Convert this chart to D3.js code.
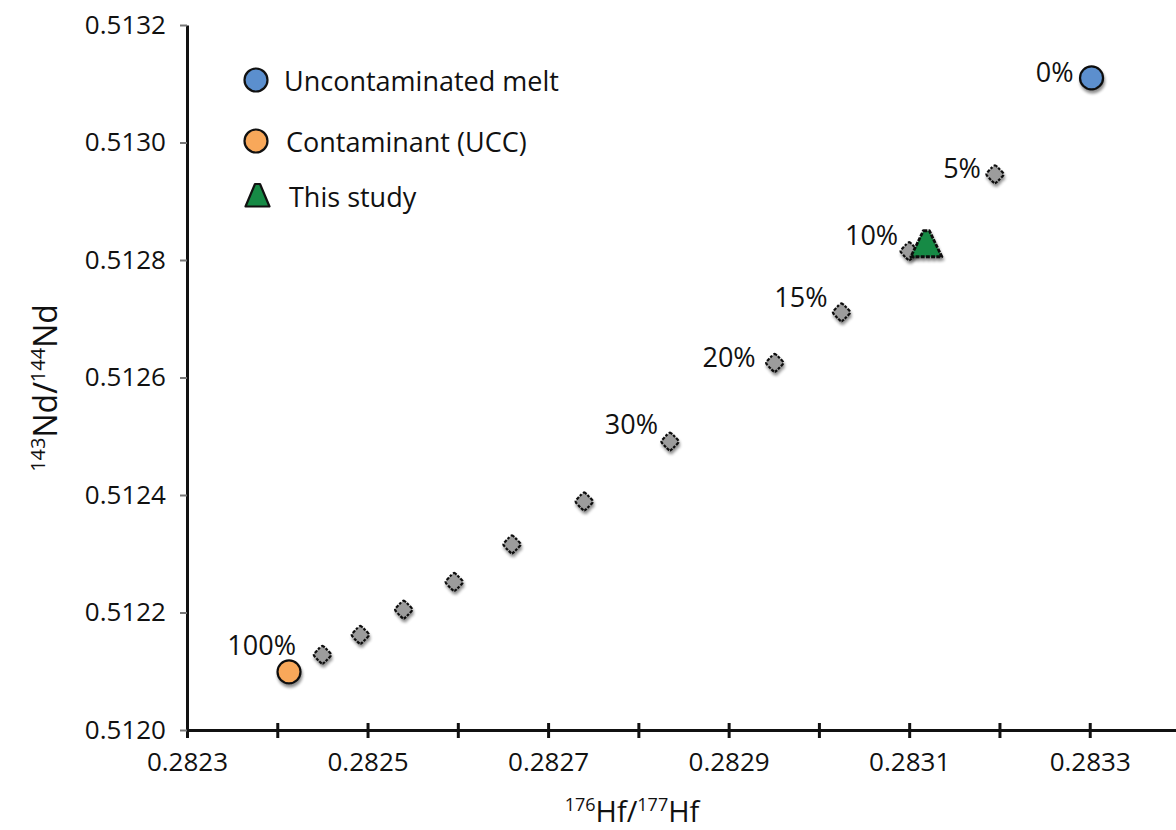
<!DOCTYPE html>
<html>
<head>
<meta charset="utf-8">
<script src="https://cdn.jsdelivr.net/npm/d3@7/dist/d3.min.js"></script>
<style>
  html, body { margin: 0; padding: 0; background: #fff; }
  svg { display: block; font-family: "Open Sans", "Noto Sans", sans-serif; }
</style>
</head>
<body>
<svg id="chart" width="1176" height="830"></svg>
<script>
// Binary mixing between an uncontaminated melt and upper continental crust (UCC)
const mixPercent = [5, 10, 15, 20, 30, 40, 50, 60, 70, 80, 90];
const mixHf = [0.283195, 0.283100, 0.283025, 0.282951, 0.282835, 0.282740, 0.282660, 0.282596, 0.282540, 0.282492, 0.282450];
const mixNd = [0.512946, 0.512815, 0.512711, 0.512625, 0.512491, 0.512389, 0.512316, 0.512252, 0.512205, 0.512162, 0.512128];

const meltHf = 0.283302, meltNd = 0.513110;          // 0 %
const contaminantHf = 0.282413, contaminantNd = 0.512099; // 100 %

const studyHf = [0.283119];
const studyNd = [0.512826];

const xTicks = [0.2823, 0.2824, 0.2825, 0.2826, 0.2827, 0.2828, 0.2829, 0.2830, 0.2831, 0.2832, 0.2833];
const xTickLabels = ["0.2823", "", "0.2825", "", "0.2827", "", "0.2829", "", "0.2831", "", "0.2833"];
const yTicks = [0.5120, 0.5122, 0.5124, 0.5126, 0.5128, 0.5130, 0.5132];

const legendLabels = ["Uncontaminated melt", "Contaminant (UCC)", "This study"];
const pctLabels = ["0%", "5%", "10%", "15%", "20%", "30%", "100%"];

const FONT = '"Open Sans", "Noto Sans", sans-serif';
const svg = d3.select("#chart");

const x = d3.scaleLinear().domain([0.2823, 0.2834]).range([187, 1180]);
const y = d3.scaleLinear().domain([0.5120, 0.5132]).range([730, 25]);

// soft drop shadow used by every marker
const defs = svg.append("defs");
const f = defs.append("filter").attr("id", "shadow")
  .attr("x", "-50%").attr("y", "-50%").attr("width", "200%").attr("height", "200%");
f.append("feGaussianBlur").attr("in", "SourceAlpha").attr("stdDeviation", 1.8).attr("result", "b");
f.append("feOffset").attr("in", "b").attr("dx", 1).attr("dy", 3).attr("result", "o");
f.append("feComponentTransfer").attr("in", "o").attr("result", "s")
  .append("feFuncA").attr("type", "linear").attr("slope", 0.45);
const m = f.append("feMerge");
m.append("feMergeNode").attr("in", "s");
m.append("feMergeNode").attr("in", "SourceGraphic");

// axes
const xAxis = d3.axisBottom(x).tickValues(xTicks)
  .tickFormat((d, i) => xTickLabels[i]).tickSize(7).tickSizeOuter(0);
const gx = svg.append("g").attr("transform", `translate(0,${y(0.5120)})`).call(xAxis)
  .attr("font-family", FONT).attr("font-size", 26);
gx.select(".domain").attr("stroke", "#111").attr("stroke-width", 3);
gx.selectAll(".tick line").attr("y1", -7).attr("y2", 8).attr("stroke", "#111").attr("stroke-width", 3);
gx.selectAll(".tick text").attr("y", 23).attr("dy", "0.71em").attr("fill", "#111");

const yAxis = d3.axisLeft(y).tickValues(yTicks).tickFormat(d3.format(".4f"))
  .tickSize(7).tickSizeOuter(0);
const gy = svg.append("g").attr("transform", `translate(${x(0.2823)},0)`).call(yAxis)
  .attr("font-family", FONT).attr("font-size", 26);
gy.select(".domain").attr("stroke", "#111").attr("stroke-width", 3);
gy.selectAll(".tick line").attr("stroke", "#777").attr("stroke-width", 2);
gy.selectAll(".tick text").attr("x", -21).attr("fill", "#111");

// axis titles
const xt = svg.append("text").attr("x", 632).attr("y", 822)
  .attr("text-anchor", "middle").attr("font-size", 29).attr("fill", "#111");
xt.append("tspan").attr("font-size", 18).attr("dy", -11).text("176");
xt.append("tspan").attr("dy", 11).text("Hf/");
xt.append("tspan").attr("font-size", 18).attr("dy", -11).text("177");
xt.append("tspan").attr("dy", 11).text("Hf");

const yt = svg.append("text").attr("transform", "translate(57,388) rotate(-90)")
  .attr("text-anchor", "middle").attr("font-size", 32).attr("fill", "#111");
yt.append("tspan").attr("font-size", 20).attr("dy", -12).text("143");
yt.append("tspan").attr("dy", 12).text("Nd/");
yt.append("tspan").attr("font-size", 20).attr("dy", -12).text("144");
yt.append("tspan").attr("dy", 12).text("Nd");

// mixing curve points
const diamond = "M0,-9 Q1.2,-9 8.2,-1.2 Q9,0 8.2,1.2 Q1.2,9 0,9 Q-1.2,9 -8.2,1.2 Q-9,0 -8.2,-1.2 Q-1.2,-9 0,-9Z";
svg.append("g").selectAll("path").data(mixHf).join("path")
  .attr("d", diamond)
  .attr("transform", (d, i) => `translate(${x(d)},${y(mixNd[i])})`)
  .attr("fill", "#9c9c9c").attr("stroke", "#111").attr("stroke-width", 2.2)
  .attr("stroke-dasharray", "3 1.4").attr("filter", "url(#shadow)");

// end members
svg.append("circle").attr("cx", x(meltHf)).attr("cy", y(meltNd)).attr("r", 11.5)
  .attr("fill", "#5b8fce").attr("stroke", "#111").attr("stroke-width", 2.2).attr("filter", "url(#shadow)");
svg.append("circle").attr("cx", x(contaminantHf)).attr("cy", y(contaminantNd)).attr("r", 11.5)
  .attr("fill", "#f8a85a").attr("stroke", "#111").attr("stroke-width", 2.2).attr("filter", "url(#shadow)");

// samples from this study
const tri = "M-3,-14 L3,-14 L15.5,12 L-15.5,12 Z";
svg.append("g").selectAll("path").data(studyHf).join("path")
  .attr("d", tri)
  .attr("transform", (d, i) => `translate(${x(d)},${y(studyNd[i])})`)
  .attr("fill", "#168a45").attr("stroke", "#111").attr("stroke-width", 2.8)
  .attr("stroke-dasharray", "4 1.2")
  .attr("stroke-linejoin", "round").attr("filter", "url(#shadow)");

// mixing percentage labels, placed beside their points
const pctHf = [meltHf, mixHf[0], mixHf[1], mixHf[2], mixHf[3], mixHf[4], contaminantHf];
const pctNd = [meltNd, mixNd[0], mixNd[1], mixNd[2], mixNd[3], mixNd[4], contaminantNd];
const pctOffset = [[-18, 4], [-14, 4], [-11, -6], [-14, -5], [-19, 4], [-12, -8], [7, -17]];
svg.append("g").selectAll("text").data(pctLabels).join("text")
  .attr("x", (d, i) => x(pctHf[i]) + pctOffset[i][0])
  .attr("y", (d, i) => y(pctNd[i]) + pctOffset[i][1])
  .attr("text-anchor", "end").attr("font-size", 27).attr("fill", "#111")
  .text(d => d);

// legend
const lg = svg.append("g");
lg.append("circle").attr("cx", 256).attr("cy", 80).attr("r", 11.5)
  .attr("fill", "#5b8fce").attr("stroke", "#111").attr("stroke-width", 2.2);
lg.append("circle").attr("cx", 256).attr("cy", 141).attr("r", 11.5)
  .attr("fill", "#f8a85a").attr("stroke", "#111").attr("stroke-width", 2.2);
lg.append("path").attr("d", "M-2.5,-11.5 L2.5,-11.5 L12,11 L-12,11 Z")
  .attr("transform", "translate(257.5,195.5)")
  .attr("fill", "#168a45").attr("stroke", "#111").attr("stroke-width", 2.2).attr("stroke-linejoin", "round");
lg.selectAll("text").data(legendLabels).join("text")
  .attr("x", (d, i) => [284, 286, 289][i])
  .attr("y", (d, i) => [91, 152, 207][i])
  .attr("font-size", 27).attr("fill", "#111")
  .text(d => d);
</script>
</body>
</html>
